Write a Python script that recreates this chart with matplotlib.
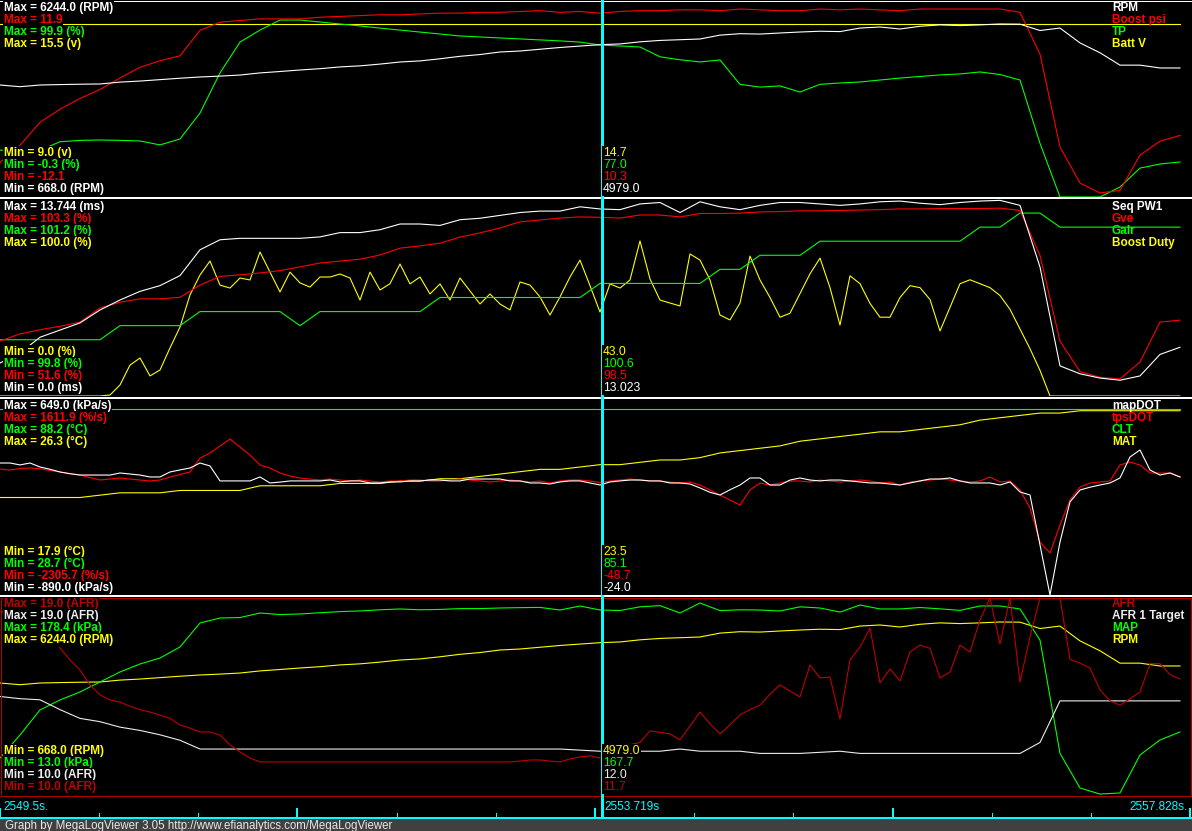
import numpy as np
import matplotlib
matplotlib.use("Agg")
import matplotlib.pyplot as plt
from matplotlib.patches import Rectangle

plt.rcParams["font.family"] = ["Liberation Sans", "DejaVu Sans"]

W, H = 1192, 831
T0, T1 = 2549.517, 2557.828      # time at left / right edge of the window
T_CUR = 2553.719                 # cursor

# log samples (~0.07 s apart); smooth channels kept at every 2nd sample
t_slow = T0 + 0.13968 * np.arange(60)
t_fast = T0 + 0.06984 * np.arange(119)

# ---------------- panel 1 ----------------
rpm = [3838, 3790, 3838, 3850, 3860, 3867, 3920, 3950, 3990, 4030,
       4065, 4090, 4120, 4180, 4220, 4263, 4300, 4350, 4380, 4430,
       4489, 4520, 4580, 4650, 4700, 4772, 4800, 4850, 4900, 4940,
       4979, 5000, 5060, 5100, 5120, 5140, 5250, 5290, 5280, 5310,
       5338, 5360, 5350, 5450, 5480, 5423, 5500, 5540, 5520, 5540,
       5565, 5560, 5380, 5450, 5030, 4750, 4400, 4400, 4320, 4320]
boost = [-7.9, -5.8, -3.0, -1.4, -0.1, 1.0, 2.4, 3.7, 4.5, 5.1,
         8.2, 9.2, 9.4, 9.6, 9.6, 9.6, 9.8, 9.9, 10.0, 10.1,
         10.1, 10.2, 10.3, 10.3, 10.4, 10.4, 10.5, 10.6, 10.4, 10.5,
         10.3, 10.5, 10.6, 10.6, 10.7, 10.7, 10.6, 10.8, 10.7, 10.6,
         10.6, 10.8, 10.7, 10.8, 10.7, 10.6, 10.8, 10.8, 10.8, 10.8,
         10.8, 10.4, 5.3, -6.0, -10.4, -11.6, -11.3, -7.0, -5.3, -4.6]
tp = [23.5, 23.5, 23.5, 27.8, 28.5, 28.7, 28.5, 28.2, 26.2, 29.2,
      42.4, 62.8, 78.5, 84.6, 89.7, 89.7, 88.7, 87.7, 86.7, 85.6,
      84.6, 83.6, 82.6, 81.6, 81.1, 80.6, 80.1, 79.6, 79.1, 78.5,
      77.0, 76.5, 76.0, 71.0, 69.5, 68.4, 69.4, 57.0, 55.6, 56.2,
      53.1, 57.0, 57.7, 58.2, 59.2, 60.2, 61.0, 61.8, 62.3, 63.3,
      62.0, 59.2, 27.0, -0.3, -0.3, -0.3, 4.8, 14.4, 16.5, 17.5]
batt = [14.7] * 60

# ---------------- panel 2 ----------------
pw1 = [2.3, 3.0, 4.1, 4.6, 5.1, 6.0, 6.7, 7.3, 7.7, 8.4,
       10.2, 10.9, 11.0, 11.0, 11.0, 11.0, 11.1, 11.4, 11.4, 11.6,
       12.0, 12.0, 11.9, 12.3, 12.4, 12.6, 12.8, 12.9, 12.9, 13.2,
       13.05, 13.0, 13.4, 13.5, 12.8, 13.55, 13.2, 13.0, 13.3, 13.5,
       13.5, 13.4, 13.3, 13.4, 13.55, 13.6, 13.45, 13.35, 13.5, 13.6,
       13.65, 13.3, 9.0, 2.1, 1.55, 1.25, 1.1, 1.4, 2.9, 3.4]
gve = [66.0, 67.9, 69.0, 69.9, 71.0, 74.7, 76.2, 77.1, 77.1, 77.5,
       80.7, 83.0, 83.4, 83.9, 84.5, 85.5, 86.5, 87.0, 87.5, 88.6,
       90.4, 91.0, 91.7, 93.3, 94.4, 95.7, 97.3, 97.8, 98.3, 98.6,
       98.5, 98.3, 99.1, 99.1, 98.6, 99.5, 99.5, 99.6, 99.9, 100.0,
       100.2, 100.2, 100.3, 100.4, 100.5, 100.7, 100.7, 100.8, 100.8, 100.8,
       100.9, 100.3, 88.5, 66.0, 58.0, 56.5, 56.1, 60.5, 71.0, 71.5]
gair = [100.2, 100.2, 100.2, 100.2, 100.2, 100.2, 100.3, 100.3, 100.3, 100.3,
        100.4, 100.4, 100.4, 100.4, 100.4, 100.3, 100.4, 100.4, 100.4, 100.4,
        100.4, 100.4, 100.5, 100.5, 100.5, 100.5, 100.5, 100.5, 100.5, 100.5,
        100.6, 100.6, 100.6, 100.6, 100.6, 100.6, 100.7, 100.7, 100.8, 100.8,
        100.8, 100.9, 100.9, 100.9, 100.9, 100.9, 100.9, 100.9, 100.9, 101.0,
        101.0, 101.1, 101.1, 101.0, 101.0, 101.0, 101.0, 101.0, 101.0, 101.0]
duty = [0, 0, 0, 0, 0, 0, 0, 0, 0, 0,
        0, 0.5, 5.6, 15.7, 19.3, 10.2, 13.2, 24.4, 35.0, 51.3,
        61.4, 68.5, 56.3, 54.8, 59.9, 58.9, 73.1, 62.9, 52.8, 62.9,
        57.4, 55.3, 60.4, 60.4, 61.9, 59.9, 48.7, 62.9, 53.8, 57.0,
        67.0, 56.9, 60.4, 51.8, 56.9, 48.7, 59.9, 53.3, 46.7, 51.8,
        46.7, 43.7, 57.9, 56.3, 50.3, 41.1, 50.3, 60.4, 69.0, 56.0,
        42.6, 56.9, 54.8, 58.9, 78.7, 59.4, 48.7, 47.2, 45.7, 72.1,
        69.0, 58.9, 41.1, 38.6, 47.2, 71.0, 58.9, 50.0, 40.0, 42.0,
        52.0, 62.0, 70.0, 55.0, 36.0, 61.0, 57.0, 47.0, 40.0, 40.0,
        50.0, 56.0, 55.0, 49.0, 33.0, 45.0, 57.0, 59.0, 57.0, 55.0,
        51.0, 44.0, 34.0, 24.0, 13.0, 0, 0, 0, 0, 0,
        0, 0, 0, 0, 0, 0, 0, 0, 0]

# ---------------- panel 3 ----------------
mapdot = [149, 149, 134, 149, 118, 100, 79, 65, 55, 55,
          55, 55, 71, 63, 55, 40, 40, 79, 95, 110,
          149, 126, 9, 9, 9, 9, 40, -7, 0, 9,
          9, 9, 9, 16, 1, 9, 9, -7, -7, 1,
          1, 9, 9, 16, 16, 9, 9, 24, 24, 24,
          24, 9, 9, -7, -7, -15, 1, 9, 9, -7,
          -23, 1, 9, 16, 16, 9, 9, -7, -7, -15,
          -46, -80, -101, -60, -23, 32, 32, -23, -23, 16,
          32, 16, 9, 16, 16, 9, 1, -7, -7, -15,
          -23, -7, 9, 24, 24, 32, 9, -7, -7, -7,
          -23, 1, -77, -101, -491, -882, -468, -155, -62, -40,
          -23, -7, 32, 196, 251, 94, 55, 71, 40]
tpsdot = [220, 200, 230, 240, 225, 190, 160, 130, 100, 50,
          1, 20, 41, 20, 1, -19, 1, 61, 110, 160,
          438, 538, 677, 816, 657, 498, 300, 240, 140, 80,
          41, 20, 1, 20, 1, -19, 1, -19, -39, -19,
          -19, 1, 1, -19, -19, 1, 20, 1, -19, -39,
          -19, 1, -19, -39, -19, -59, -19, 1, 1, -19,
          -49, -19, 1, 20, 1, -19, -19, -39, -59, -39,
          -99, -198, -298, -397, -497, -198, -59, -99, -59, -19,
          -19, -39, 1, -19, -39, -19, 1, -19, -59, -39,
          -99, -39, -19, 1, 20, 1, -19, -39, -19, 61,
          -39, -19, -198, -556, -1232, -1451, -894, -397, -138, -59,
          -39, -19, 299, 359, 299, 140, 140, 140, 61]
clt = [85.1] * 60
mat = [22.1, 22.1, 22.1, 22.1, 22.1, 22.2, 22.3, 22.3, 22.3, 22.4,
       22.4, 22.4, 22.4, 22.6, 22.6, 22.6, 22.6, 22.7, 22.7, 22.7,
       22.8, 22.8, 22.9, 22.9, 23.0, 23.1, 23.2, 23.3, 23.3, 23.4,
       23.5, 23.5, 23.6, 23.7, 23.7, 23.8, 24.0, 24.1, 24.2, 24.3,
       24.5, 24.6, 24.7, 24.8, 24.9, 24.9, 25.0, 25.1, 25.2, 25.4,
       25.5, 25.6, 25.7, 25.7, 25.8, 25.8, 25.8, 25.8, 25.8, 25.8]

# ---------------- panel 4 ----------------
afr = [18.4, 18.3, 18.1, 17.9, 17.7, 17.4, 16.72, 16.17, 15.71, 15.03,
       14.57, 14.34, 14.25, 14.05, 13.9, 13.79, 13.65, 13.5, 13.2, 13.06,
       12.88, 12.88, 12.74, 12.29, 11.97, 11.69, 11.51, 11.51, 11.51, 11.51,
       11.51, 11.51, 11.51, 11.51, 11.51, 11.51, 11.51, 11.51, 11.51, 11.51,
       11.51, 11.51, 11.51, 11.51, 11.51, 11.51, 11.51, 11.51, 11.51, 11.51,
       11.51, 11.51, 11.55, 11.6, 11.6, 11.55, 11.51, 11.65, 11.74, 11.79,
       11.69, 11.9, 12.1, 12.3, 12.4, 12.93, 12.86, 12.79, 12.52, 13.15,
       13.79, 13.25, 12.79, 13.2, 13.66, 13.9, 14.11, 14.6, 15.03, 14.75,
       14.48, 15.94, 15.35, 15.39, 13.47, 16.17, 16.76, 17.63, 15.12, 15.76,
       15.21, 16.53, 16.85, 16.7, 15.35, 15.62, 16.85, 16.53, 18.0, 19.0,
       16.9, 19.0, 15.16, 17.22, 19.0, 19.0, 19.0, 16.2, 16.03, 15.8,
       14.8, 14.3, 14.1, 14.4, 14.7, 16.0, 16.0, 15.5, 15.3]
afr_target = [14.5, 14.4, 14.35, 13.9, 13.5, 13.35, 13.1, 12.95, 12.75, 12.5,
              12.1, 12.1, 12.1, 12.1, 12.1, 12.1, 12.1, 12.1, 12.1, 12.1,
              12.1, 12.1, 12.1, 12.1, 12.1, 12.1, 12.1, 12.1, 12.1, 12.05,
              12.0, 12.0, 12.0, 12.0, 12.1, 12.0, 12.0, 12.0, 11.9, 11.9,
              11.9, 11.95, 12.0, 11.9, 11.9, 11.9, 11.9, 11.9, 11.9, 11.9,
              11.9, 11.9, 12.4, 14.3, 14.3, 14.3, 14.3, 14.3, 14.3, 14.3]
map_kpa = [44.1, 63.4, 84.4, 92.8, 99.5, 107.9, 116.3, 123.0, 128.0, 137.3,
           157.4, 161.6, 162.0, 165.8, 164.5, 165.0, 166.0, 167.0, 167.5, 168.5,
           169.2, 168.5, 168.8, 169.5, 169.5, 170.0, 170.3, 170.5, 168.3, 171.7,
           168.3, 167.9, 171.0, 172.0, 165.8, 174.2, 167.8, 168.5, 168.3, 167.5,
           171.0, 170.0, 166.6, 172.5, 169.2, 169.2, 170.4, 169.3, 168.0, 171.7,
           171.7, 169.2, 143.1, 48.0, 18.9, 13.8, 14.7, 46.6, 59.2, 65.9]

WHITE, RED, GREEN, YELLOW = "#ffffff", "#ff0000", "#00ff00", "#ffff00"
DKRED, LTGRAY, CYAN = "#c00000", "#ececec", "#00ffff"

# per panel: (top px, label offset, traces)
# trace: (name, unit, min, max, max decimals, cursor text, colour, t, values)
panels = [
    (0, 8, [
        ("RPM", "(RPM)", 668.0, 6244.0, 1, "4979.0", WHITE, t_slow, rpm),
        ("Boost psi", "", -12.1, 11.9, 1, "10.3", RED, t_slow, boost),
        ("TP", "(%)", -0.3, 99.9, 1, "77.0", GREEN, t_slow, tp),
        ("Batt V", "(v)", 9.0, 15.5, 1, "14.7", YELLOW, t_slow, batt)]),
    (199, 8, [
        ("Seq PW1", "(ms)", 0.0, 13.744, 3, "13.023", WHITE, t_slow, pw1),
        ("Gve", "(%)", 51.6, 103.3, 1, "98.5", RED, t_slow, gve),
        ("Galr", "(%)", 99.8, 101.2, 1, "100.6", GREEN, t_slow, gair),
        ("Boost Duty", "(%)", 0.0, 100.0, 1, "43.0", YELLOW, t_fast, duty)]),
    (399, 7, [
        ("mapDOT", "(kPa/s)", -890.0, 649.0, 1, "-24.0", WHITE, t_fast, mapdot),
        ("tpsDOT", "(%/s)", -2305.7, 1611.9, 1, "-48.7", RED, t_fast, tpsdot),
        ("CLT", "(°C)", 28.7, 88.2, 1, "85.1", GREEN, t_slow, clt),
        ("MAT", "(°C)", 17.9, 26.3, 1, "23.5", YELLOW, t_slow, mat)]),
    (598, 6, [
        ("AFR", "(AFR)", 10.0, 19.0, 1, "11.7", DKRED, t_fast, afr),
        ("AFR 1 Target", "(AFR)", 10.0, 19.0, 1, "12.0", LTGRAY, t_slow, afr_target),
        ("MAP", "(kPa)", 13.0, 178.4, 1, "167.7", GREEN, t_slow, map_kpa),
        ("RPM", "(RPM)", 668.0, 6244.0, 1, "4979.0", YELLOW, t_slow, rpm)]),
]
PANEL_H = 197
XRIGHT = T0 + (T1 - T0) * W / 1190.0

fig = plt.figure(figsize=(W / 100, H / 100), dpi=100)
fig.patch.set_facecolor("black")


def ptext(x, y, s, **kw):
    kw.setdefault("va", "center")
    kw.setdefault("ha", "left")
    fig.text(x / W, 1 - y / H, s, **kw)


LAB = dict(fontsize=8.5, fontweight="bold")
BOX = dict(boxstyle="square,pad=0.05", fc="black", ec="none")

for top, off, traces in panels:
    ax = fig.add_axes([0, 1 - (top + PANEL_H) / H, 1, PANEL_H / H])
    ax.set_xlim(T0, XRIGHT)
    ax.set_axis_off()
    for name, unit, lo, hi, dec, cur, col, t, v in reversed(traces):
        tw = ax.twinx()
        tw.set_ylim(lo, hi)
        tw.set_axis_off()
        tw.plot(t, v, color=col, lw=0.8)

    for i, (name, unit, lo, hi, dec, cur, col, t, v) in enumerate(traces):
        y = top + off + 12 * i
        ptext(4, y, f"Max = {hi:.{dec}f} {unit}".strip(), color=col, bbox=BOX, **LAB)
        ptext(1112, y, name, color=col, **LAB)
    for i, (name, unit, lo, hi, dec, cur, col, t, v) in enumerate(reversed(traces)):
        y = top + 153 + 12 * i
        ptext(4, y, f"Min = {lo:.1f} {unit}".strip(), color=col, bbox=BOX, **LAB)
        ptext(603, y, cur, color=col, fontsize=8.7, bbox=BOX)

# pixel overlay: borders, footer
pov = fig.add_axes([0, 0, 1, 1])
pov.set_xlim(0, W)
pov.set_ylim(H, 0)
pov.set_axis_off()
pov.patch.set_visible(False)
for y in (198.0, 397.5, 596.0):
    pov.plot([0, W], [y, y], color=WHITE, lw=1.44, antialiased=False)
pov.plot([0, W], [0.5, 0.5], color=WHITE, lw=0.72, antialiased=False)
pov.add_patch(Rectangle((0.5, 597.5), 1190, 198, fill=False, ec="#b00000", lw=0.72,
                        antialiased=False))
pov.add_patch(Rectangle((0, 819), W, 12, fc="#404040", ec="none"))
pov.plot([0, W], [818, 818], color=CYAN, lw=1.44, antialiased=False)

# time overlay: cursor and ticks
tov = fig.add_axes([0, 0, 1, 1])
tov.set_xlim(T0, XRIGHT)
tov.set_ylim(H, 0)
tov.set_axis_off()
tov.patch.set_visible(False)
tick_t = T0 + (T1 - T0) * np.arange(13) / 12
for k, tt in enumerate(tick_t):
    major = k % 3 == 0
    tov.vlines(tt, 818 - (10 if major else 5), 818, color=CYAN,
               lw=1.4 if major else 0.72, antialiased=False, clip_on=False)
tov.vlines(T_CUR, 0, 818, color=CYAN, lw=0.75, antialiased=False)

ptext(3, 806.5, f"{T0:.1f}s.", color=CYAN, fontsize=8.5)
ptext(604, 806.5, f"{T_CUR:.3f}s", color=CYAN, fontsize=8.5)
ptext(1188, 806.5, f"{T1:.3f}s.", color=CYAN, fontsize=8.5, ha="right")
ptext(5, 825.5, "Graph by MegaLogViewer 3.05 http://www.efianalytics.com/MegaLogViewer",
      color="#e8e8e8", fontsize=8.3)

fig.savefig("out.png", dpi=100, facecolor="black")
